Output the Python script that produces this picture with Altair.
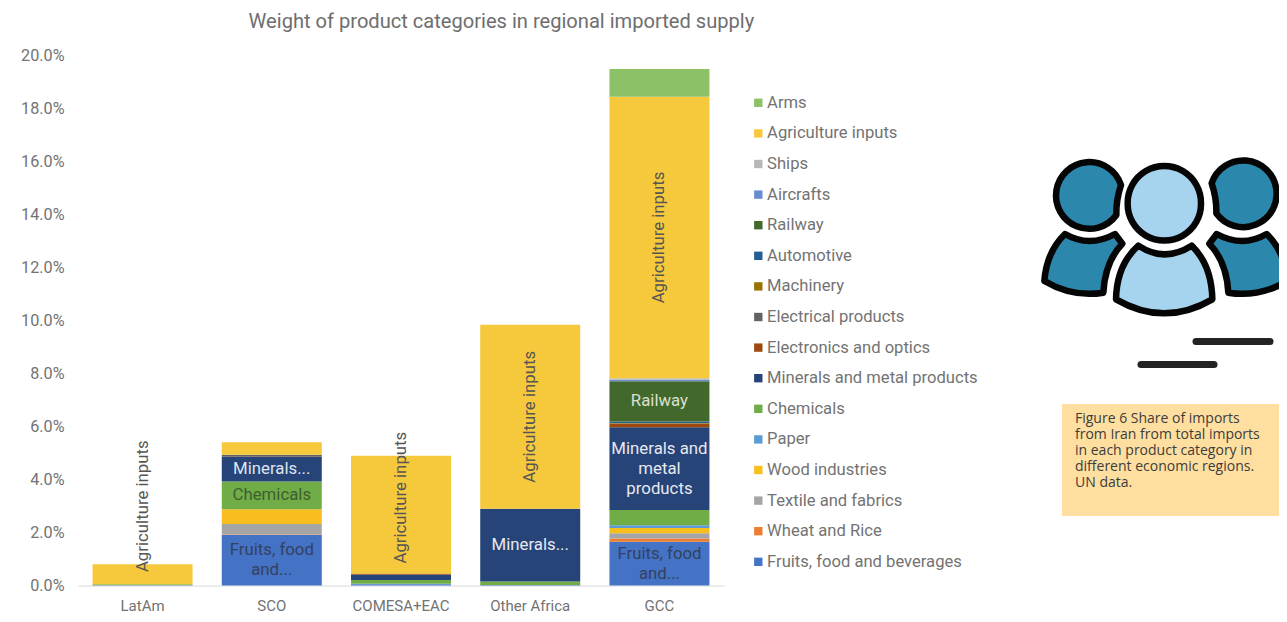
import altair as alt
import pandas as pd

TITLE = "Weight of product categories in regional imported supply"
REGIONS = ["LatAm", "SCO", "COMESA+EAC", "Other Africa", "GCC"]
SERIES = ["Fruits, food and beverages", "Wheat and Rice", "Textile and fabrics", "Wood industries", "Paper",
          "Chemicals", "Minerals and metal products", "Electronics and optics", "Electrical products",
          "Machinery", "Automotive", "Railway", "Aircrafts", "Ships", "Agriculture inputs", "Arms"]
VALUES = [
    [0.01, 1.90, 0.05, 0.02, 1.65],
    [0.00, 0.02, 0.00, 0.00, 0.12],
    [0.00, 0.40, 0.00, 0.00, 0.20],
    [0.00, 0.55, 0.00, 0.00, 0.20],
    [0.00, 0.00, 0.02, 0.00, 0.10],
    [0.04, 1.05, 0.14, 0.13, 0.58],
    [0.00, 0.92, 0.19, 2.74, 3.12],
    [0.00, 0.01, 0.02, 0.00, 0.12],
    [0.00, 0.08, 0.01, 0.00, 0.02],
    [0.00, 0.00, 0.02, 0.00, 0.02],
    [0.00, 0.00, 0.00, 0.00, 0.05],
    [0.00, 0.00, 0.00, 0.00, 1.52],
    [0.00, 0.00, 0.00, 0.00, 0.06],
    [0.00, 0.00, 0.00, 0.00, 0.05],
    [0.75, 0.47, 4.44, 6.94, 10.62],
    [0.00, 0.00, 0.00, 0.00, 1.04],
]
COLORS = ["#4472C4", "#ED7D31", "#A5A5A5", "#F7BE1E", "#5B9BD5", "#70AD47", "#264478", "#9E480E", "#636363",
          "#997300", "#255E91", "#43682B", "#698ED0", "#B7B7B7", "#F6C83C", "#8CC168"]
Y_TICKS = [0, 2, 4, 6, 8, 10, 12, 14, 16, 18, 20]
CAPTION = "\n".join(["Figure 6 Share of imports", "from Iran from total imports", "in each product category in",
                     "different economic regions.", "UN data."])

# region, series, label, angle, colour, slide along the text
LABELS = [
    ("LatAm", "Agriculture inputs", "Agriculture inputs", 270, "#555555", 68),
    ("SCO", "Fruits, food and beverages", "Fruits, food\nand...", 0, "#33415f", 0),
    ("SCO", "Chemicals", "Chemicals", 0, "#3f5f30", 0),
    ("SCO", "Minerals and metal products", "Minerals...", 0, "#dfe5ee", 0),
    ("COMESA+EAC", "Agriculture inputs", "Agriculture inputs", 270, "#555555", 17),
    ("Other Africa", "Minerals and metal products", "Minerals...", 0, "#e6e9f0", 0),
    ("Other Africa", "Agriculture inputs", "Agriculture inputs", 270, "#555555", 0),
    ("GCC", "Fruits, food and beverages", "Fruits, food\nand...", 0, "#33415f", 0),
    ("GCC", "Minerals and metal products", "Minerals and\nmetal\nproducts", 0, "#e6e9f0", 0),
    ("GCC", "Railway", "Railway", 0, "#d9e0d2", 0),
    ("GCC", "Agriculture inputs", "Agriculture inputs", 270, "#555555", 0),
]

rows = []
for ri, region in enumerate(REGIONS):
    base = 0.0
    for si, s in enumerate(SERIES):
        v = VALUES[si][ri]
        rows.append({"region": region, "series": s, "idx": si, "value": v, "mid": base + v / 2})
        base += v
df = pd.DataFrame(rows)

FONT = "Roboto"
GREY = "#737373"
PLOT_W, PLOT_H = 646, 530.5
LEFT, TOP = 70, 47
CANVAS_W, CANVAS_H = 1271, 606
ORIGIN_X, ORIGIN_Y = 8 + LEFT, 8 + TOP  # page position of the plot origin

x_scale = alt.Scale(domain=REGIONS, paddingInner=0.225, paddingOuter=0.112)
y_scale = alt.Scale(domain=[0, 20], nice=False)

bars = alt.Chart(df).mark_bar(size=100).encode(
    x=alt.X("region:N", sort=REGIONS, title=None, scale=x_scale,
            axis=alt.Axis(labelAngle=0, labelFont=FONT, labelFontSize=15, labelColor=GREY, labelPadding=12.5,
                          ticks=False, domainColor="#d9d9d9", domainWidth=1, grid=False)),
    y=alt.Y("value:Q", stack="zero", title=None, scale=y_scale,
            axis=alt.Axis(values=Y_TICKS, labelExpr="format(datum.value,'.1f')+'%'", labelFont=FONT,
                          labelFontSize=16.2, labelColor=GREY, labelPadding=14, ticks=False, domain=False,
                          grid=False)),
    color=alt.Color("series:N", sort=SERIES[::-1],
                    scale=alt.Scale(domain=SERIES[::-1], range=COLORS[::-1]),
                    legend=alt.Legend(title=None, orient="none", legendX=757 - ORIGIN_X - 7, legendY=94.5 - ORIGIN_Y,
                                      symbolType="square", symbolSize=70, symbolStrokeWidth=0, labelFont=FONT,
                                      labelFontSize=16.6, labelColor=GREY, rowPadding=13.6, labelOffset=0.5,
                                      labelLimit=260, symbolOpacity=1)),
    order=alt.Order("idx:Q", sort="ascending"),
)

lab = pd.DataFrame(LABELS, columns=["region", "series", "text", "angle", "color", "shift"])
lab = lab.merge(df[["region", "series", "mid"]], on=["region", "series"])
lab["lines"] = lab["text"].str.count("\n")
text_layers = []
for (angle, shift, lines), g in lab.groupby(["angle", "shift", "lines"]):
    text_layers.append(
        alt.Chart(g).mark_text(font=FONT, fontSize=16.8, angle=int(angle), lineHeight=20, dx=int(shift), dy=-10 * int(lines),
                               lineBreak="\n", baseline="middle", align="center").encode(
            x=alt.X("region:N", sort=REGIONS, scale=x_scale, title=None),
            y=alt.Y("mid:Q", scale=y_scale, title=None),
            text=alt.Text("text:N"),
            color=alt.Color("color:N", scale=None, legend=None),
        ))

# Decoration on the right: drawn from one-row data with page-relative channels
one = pd.DataFrame({"i": [0]})
VX = 1030 - ORIGIN_X
VY = 140 - ORIGIN_Y


def path(s):
    """Scale an icon path, drawn at 3x, down to page pixels."""
    out = []
    for tok in s.split():
        try:
            out.append(f"{float(tok) / 3:.2f}")
        except ValueError:
            out.append(tok)
    return " ".join(out)


def arc(r, large, sweep, ex, ey):
    return f"A {r / 3:.2f} {r / 3:.2f} 0 {large} {sweep} {ex / 3:.2f} {ey / 3:.2f}"


def icon(p, fill):
    return alt.Chart(one).mark_point(shape=p, size=4, filled=True, fill=fill, stroke="#050505", strokeWidth=6.5,
                                     opacity=1, strokeOpacity=1, fillOpacity=1, strokeJoin="round").encode(
        x=alt.value(VX), y=alt.value(VY))


SIDE = "#2B87AB"
LIGHT = "#A6D3EE"
left_head = f"M {273 / 3:.2f} {135 / 3:.2f} {arc(100, 1, 0, 259, 225)} Q {258 / 3:.2f} {180 / 3:.2f} {273 / 3:.2f} {135 / 3:.2f} Z"
right_head = f"M {545 / 3:.2f} {130 / 3:.2f} {arc(100, 1, 1, 559, 220)} Q {560 / 3:.2f} {175 / 3:.2f} {545 / 3:.2f} {130 / 3:.2f} Z"
left_body = path("M 105 282 Q 178 324 255 282 L 277 311 Q 225 365 220 458 Q 128 473 43 423 Q 50 335 105 282 Z")
right_body = path("M 710 282 Q 637 324 560 282 L 538 311 Q 590 365 595 458 Q 687 473 772 423 Q 765 335 710 282 Z")
center_body = path("M 325 317 Q 403 369 485 317 Q 545 375 547 478 Q 403 562 258 478 Q 260 375 325 317 Z")
center_head = f"M {293 / 3:.2f} {190 / 3:.2f} {arc(110, 1, 1, 513, 190)} {arc(110, 1, 1, 293, 190)} Z"
people = [icon(left_head, SIDE), icon(right_head, SIDE), icon(left_body, SIDE), icon(right_body, SIDE),
          icon(center_body, LIGHT), icon(center_head, LIGHT)]


def dash(x0, x1, y):
    return alt.Chart(one).mark_rule(color="#232323", strokeWidth=7, strokeCap="round").encode(
        x=alt.value(x0 - ORIGIN_X), x2=alt.value(x1 - ORIGIN_X), y=alt.value(y - ORIGIN_Y))


dashes = [dash(1196, 1270, 341.5), dash(1141, 1214, 364.5)]

box = alt.Chart(one).mark_rect(color="#FFDFA0").encode(
    x=alt.value(1062 - ORIGIN_X), x2=alt.value(1280 - ORIGIN_X),
    y=alt.value(404 - ORIGIN_Y), y2=alt.value(516 - ORIGIN_Y))
caption = alt.Chart(pd.DataFrame({"line": [CAPTION]})).mark_text(
    font="Open Sans", fontSize=14, color="#3c3c3c", align="left", baseline="top", lineBreak="\n", lineHeight=16).encode(
    x=alt.value(1075 - ORIGIN_X),
    y=alt.value(412 - ORIGIN_Y),
    text="line:N")

chart = alt.layer(bars, *text_layers, box, caption, *people, *dashes).resolve_scale(
    color="independent"
).properties(
    width=PLOT_W, height=PLOT_H,
    padding={"left": LEFT, "top": TOP, "right": CANVAS_W - LEFT - PLOT_W, "bottom": CANVAS_H - TOP - PLOT_H},
    autosize=alt.AutoSizeParams(type="none"),
    background="white",
    title=alt.TitleParams(TITLE, font=FONT, fontSize=20.1, fontWeight="normal", color="#6e6e6e",
                          anchor="start", dx=248 + 57 - ORIGIN_X + 1, offset=15),
).configure_view(stroke=None)

chart.save("out.html", embed_options={"renderer": "svg", "actions": False})
